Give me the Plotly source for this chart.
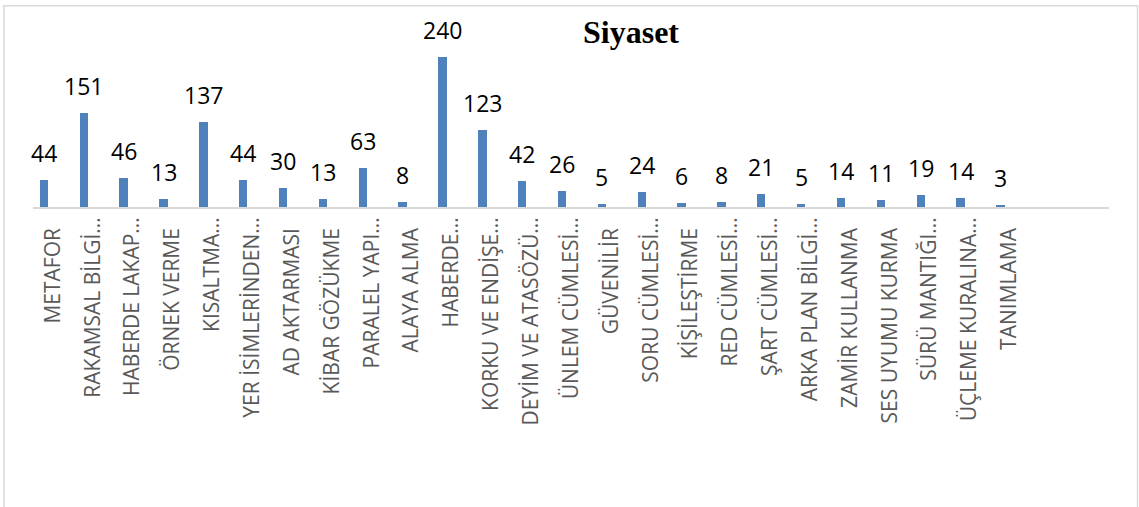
import plotly.graph_objects as go

# ---- data ----
categories = [
    "METAFOR", "RAKAMSAL BİLGİ...", "HABERDE LAKAP...", "ÖRNEK VERME", "KISALTMA...",
    "YER İSİMLERİNDEN...", "AD AKTARMASI", "KİBAR GÖZÜKME", "PARALEL YAPI...", "ALAYA ALMA",
    "HABERDE...", "KORKU VE ENDİŞE...", "DEYİM VE ATASÖZÜ...", "ÜNLEM CÜMLESİ...", "GÜVENİLİR",
    "SORU CÜMLESİ...", "KİŞİLEŞTİRME", "RED CÜMLESİ...", "ŞART CÜMLESİ...", "ARKA PLAN BİLGİ...",
    "ZAMİR KULLANMA", "SES UYUMU KURMA", "SÜRÜ MANTIĞI...", "ÜÇLEME KURALINA...", "TANIMLAMA",
]
values = [44, 151, 46, 13, 137, 44, 30, 13, 63, 8, 240, 123, 42, 26, 5, 24, 6, 8, 21, 5, 14, 11, 19, 14, 3]
title_text = "Siyaset"

# ---- style ----
BAR_COLOR = "#4f81bd"
GRID_GRAY = "#d9d9d9"
TICK_COLOR = "#595959"
BAR_WIDTH = 0.21
BAR_SHIFT = -0.225      # bar centre offset inside its category slot
N_SLOTS = 27

positions = list(range(len(categories)))
bar_x = [p + BAR_SHIFT for p in positions]

# non-truncated labels sit a little further from the axis in the original
ticktext = [c if c.endswith("...") else c + "\u00a0\u00a0" for c in categories]

fig = go.Figure()
fig.add_trace(go.Bar(
    x=bar_x, y=values, width=BAR_WIDTH,
    marker=dict(color=BAR_COLOR, line=dict(width=0)),
    hoverinfo="skip", showlegend=False,
))

for xv, v in zip(bar_x, values):
    fig.add_annotation(
        x=xv, y=v, text=str(v), showarrow=False,
        xanchor="center", yanchor="middle", yshift=27,
        font=dict(family="Open Sans", size=23, color="#000000"),
    )

fig.add_annotation(
    text="<b>" + title_text + "</b>", xref="paper", yref="paper",
    x=(631 - 33) / 1076, y=(207.3 - 32) / 187, xanchor="center", yanchor="middle",
    showarrow=False, font=dict(family="Liberation Serif", size=32, color="#000000"),
)

# outer chart border
fig.add_shape(
    type="rect", xref="paper", yref="paper",
    x0=(4 - 33) / 1076, x1=(1137.5 - 33) / 1076,
    y0=-1.8, y1=(207.3 - 6) / 187,
    line=dict(color=GRID_GRAY, width=1.5), fillcolor="rgba(0,0,0,0)",
)

fig.update_xaxes(
    range=[-0.5, N_SLOTS - 0.5],
    tickmode="array", tickvals=positions, ticktext=ticktext,
    tickangle=-90, ticks="", showgrid=False, zeroline=False,
    showline=True, linecolor=GRID_GRAY, linewidth=1.5,
    tickfont=dict(family="Open Sans", size=21, color=TICK_COLOR),
    ticklabelstandoff=0,
)
fig.update_yaxes(range=[0, 300], visible=False, showgrid=False, zeroline=False)

fig.update_layout(
    width=1139, height=507,
    margin=dict(l=33, r=30, t=20, b=300, autoexpand=False),
    paper_bgcolor="white", plot_bgcolor="white",
    bargap=0, showlegend=False,
)

fig.write_html("out.html", config={"displayModeBar": False},
               post_script="document.body.style.margin='0';")
